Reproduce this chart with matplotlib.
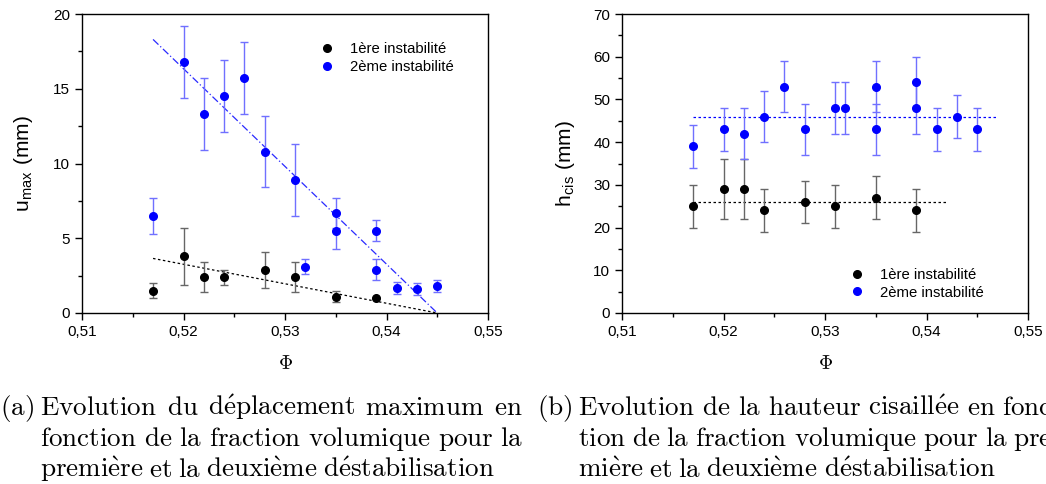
import numpy as np
import matplotlib
matplotlib.use('Agg')
import matplotlib.pyplot as plt
from matplotlib.ticker import FuncFormatter, MultipleLocator
from matplotlib.lines import Line2D

plt.rcParams['font.family'] = ['Liberation Sans', 'DejaVu Sans']
plt.rcParams['mathtext.fontset'] = 'cm'

# --- (a) u_max vs phi ---
phi1_a = [0.517, 0.520, 0.522, 0.524, 0.528, 0.531, 0.535, 0.539]
u1 = [1.5, 3.8, 2.4, 2.4, 2.9, 2.4, 1.1, 1.0]
u1_err = [0.5, 1.9, 1.0, 0.5, 1.2, 1.0, 0.35, 0.0]

phi2_a = [0.517, 0.520, 0.522, 0.524, 0.526, 0.528, 0.531, 0.532, 0.535, 0.535,
          0.539, 0.539, 0.541, 0.543, 0.545]
u2 = [6.5, 16.8, 13.3, 14.5, 15.7, 10.8, 8.9, 3.1, 6.7, 5.5, 5.5, 2.9, 1.7, 1.6, 1.8]
u2_err = [1.2, 2.4, 2.4, 2.4, 2.4, 2.4, 2.4, 0.5, 1.0, 1.2, 0.7, 0.7, 0.4, 0.4, 0.4]

fit1_a_x = [0.517, 0.545]
fit1_a_y = [3.65, 0.0]
fit2_a_x = [0.517, 0.545]
fit2_a_y = [18.3, 0.0]

# --- (b) h_cis vs phi ---
phi1_b = [0.517, 0.520, 0.522, 0.524, 0.528, 0.531, 0.535, 0.539]
h1 = [25, 29, 29, 24, 26, 25, 27, 24]
h1_err = [5, 7, 7, 5, 5, 5, 5, 5]

phi2_b = [0.517, 0.520, 0.522, 0.524, 0.526, 0.528, 0.531, 0.532, 0.535, 0.535,
          0.539, 0.539, 0.541, 0.543, 0.545]
h2 = [39, 43, 42, 46, 53, 43, 48, 48, 53, 43, 54, 48, 43, 46, 43]
h2_err = [5, 5, 6, 6, 6, 6, 6, 6, 6, 6, 6, 6, 5, 5, 5]

fit1_b_x = [0.517, 0.542]
fit1_b_y = [26, 26]
fit2_b_x = [0.517, 0.547]
fit2_b_y = [46, 46]

labels = ['1ère instabilité', '2ème instabilité']

cap_a = ['Evolution du déplacement maximum en',
         'fonction de la fraction volumique pour la',
         'première et la deuxième déstabilisation']
cap_b = ['Evolution de la hauteur cisaillée en fonc-',
         'tion de la fraction volumique pour la pre-',
         'mière et la deuxième déstabilisation']

fig = plt.figure(figsize=(10.46, 4.84), dpi=100)
ax1 = fig.add_axes([82/1046, 1-313/484, 406/1046, 299/484])
ax2 = fig.add_axes([622/1046, 1-313/484, 406/1046, 299/484])

comma = FuncFormatter(lambda v, p: ('%.2f' % v).replace('.', ','))

def draw(ax, x1, y1, e1, x2, y2, e2):
    ax.errorbar(x1, y1, yerr=e1, fmt='o', color='black', ms=5.5,
                ecolor='#666666', elinewidth=1, capsize=3, capthick=1, zorder=3)
    ax.errorbar(x2, y2, yerr=e2, fmt='o', color='#0000ff', ms=5.5,
                ecolor='#7070ff', elinewidth=1, capsize=3, capthick=1, zorder=3)

draw(ax1, phi1_a, u1, u1_err, phi2_a, u2, u2_err)
ax1.plot(fit1_a_x, fit1_a_y, color='black', ls=(0, (2, 2)), lw=0.9)
ax1.plot(fit2_a_x, fit2_a_y, color='#2a2aff', ls=(0, (6, 2, 1, 2)), lw=0.9)
ax1.set_ylim(0, 20)
ax1.yaxis.set_major_locator(MultipleLocator(5))
ax1.yaxis.set_minor_locator(MultipleLocator(2.5))
ax1.set_ylabel(r'u$_{\mathregular{max}}$ (mm)', fontsize=15, labelpad=13)

draw(ax2, phi1_b, h1, h1_err, phi2_b, h2, h2_err)
ax2.plot(fit1_b_x, fit1_b_y, color='black', ls=(0, (2, 2)), lw=0.9)
ax2.plot(fit2_b_x, fit2_b_y, color='#0000ff', ls=(0, (2, 2)), lw=0.9)
ax2.set_ylim(0, 70)
ax2.yaxis.set_major_locator(MultipleLocator(10))
ax2.yaxis.set_minor_locator(MultipleLocator(5))
ax2.set_ylabel(r'h$_{\mathregular{cis}}$ (mm)', fontsize=15, labelpad=12)

handles = [Line2D([], [], ls='none', marker='o', ms=5.5, color='black'),
           Line2D([], [], ls='none', marker='o', ms=5.5, color='#0000ff')]

for ax in (ax1, ax2):
    ax.set_xlim(0.51, 0.55)
    ax.xaxis.set_major_locator(MultipleLocator(0.01))
    ax.xaxis.set_minor_locator(MultipleLocator(0.005))
    ax.xaxis.set_major_formatter(comma)
    ax.tick_params(which='major', direction='out', length=5, width=1, labelsize=11,
                   top=False, right=False)
    ax.tick_params(which='minor', direction='out', length=3, width=1,
                   top=False, right=False)
    for s in ax.spines.values():
        s.set_linewidth(1)
    ax.set_xlabel(r'$\Phi$', fontsize=14, labelpad=12)

ax1.legend(handles, labels, loc='upper left', bbox_to_anchor=(0.535, 0.95),
           frameon=False, fontsize=10.7, handletextpad=0.5, labelspacing=0.25)
ax2.legend(handles, labels, loc='lower left', bbox_to_anchor=(0.51, 0.0),
           frameon=False, fontsize=10.7, handletextpad=0.5, labelspacing=0.25)

# captions, justified like the LaTeX source
cap_size = 19.5
fig.canvas.draw()
rend = fig.canvas.get_renderer()

def tex(word):
    tail = ''
    if word.endswith('-'):
        word, tail = word[:-1], '-'
    w = word.replace('é', r'\acute{e}').replace('è', r'\grave{e}')
    return r'$\mathrm{' + w + '}$' + tail

def caption(tag, lines, x0, xt, width):
    fig.text(x0/1046, 1-415/484, tex(tag), va='baseline', fontsize=cap_size)
    for i, line in enumerate(lines):
        yb = 1 - (415 + 31*i)/484
        words = line.split(' ')
        texts = [fig.text(0, yb, tex(w), va='baseline', fontsize=cap_size)
                 for w in words]
        ws = [t.get_window_extent(rend).width for t in texts]
        if i < len(lines) - 1:
            gap = (width - sum(ws)) / (len(words) - 1)
        else:
            gap = 5.5
        x = xt
        for t, w in zip(texts, ws):
            t.set_x(x/1046)
            x += w + gap

caption('(a)', cap_a, 0, 40, 483)
caption('(b)', cap_b, 537, 578, 483)

fig.savefig('out.png', dpi=100)
